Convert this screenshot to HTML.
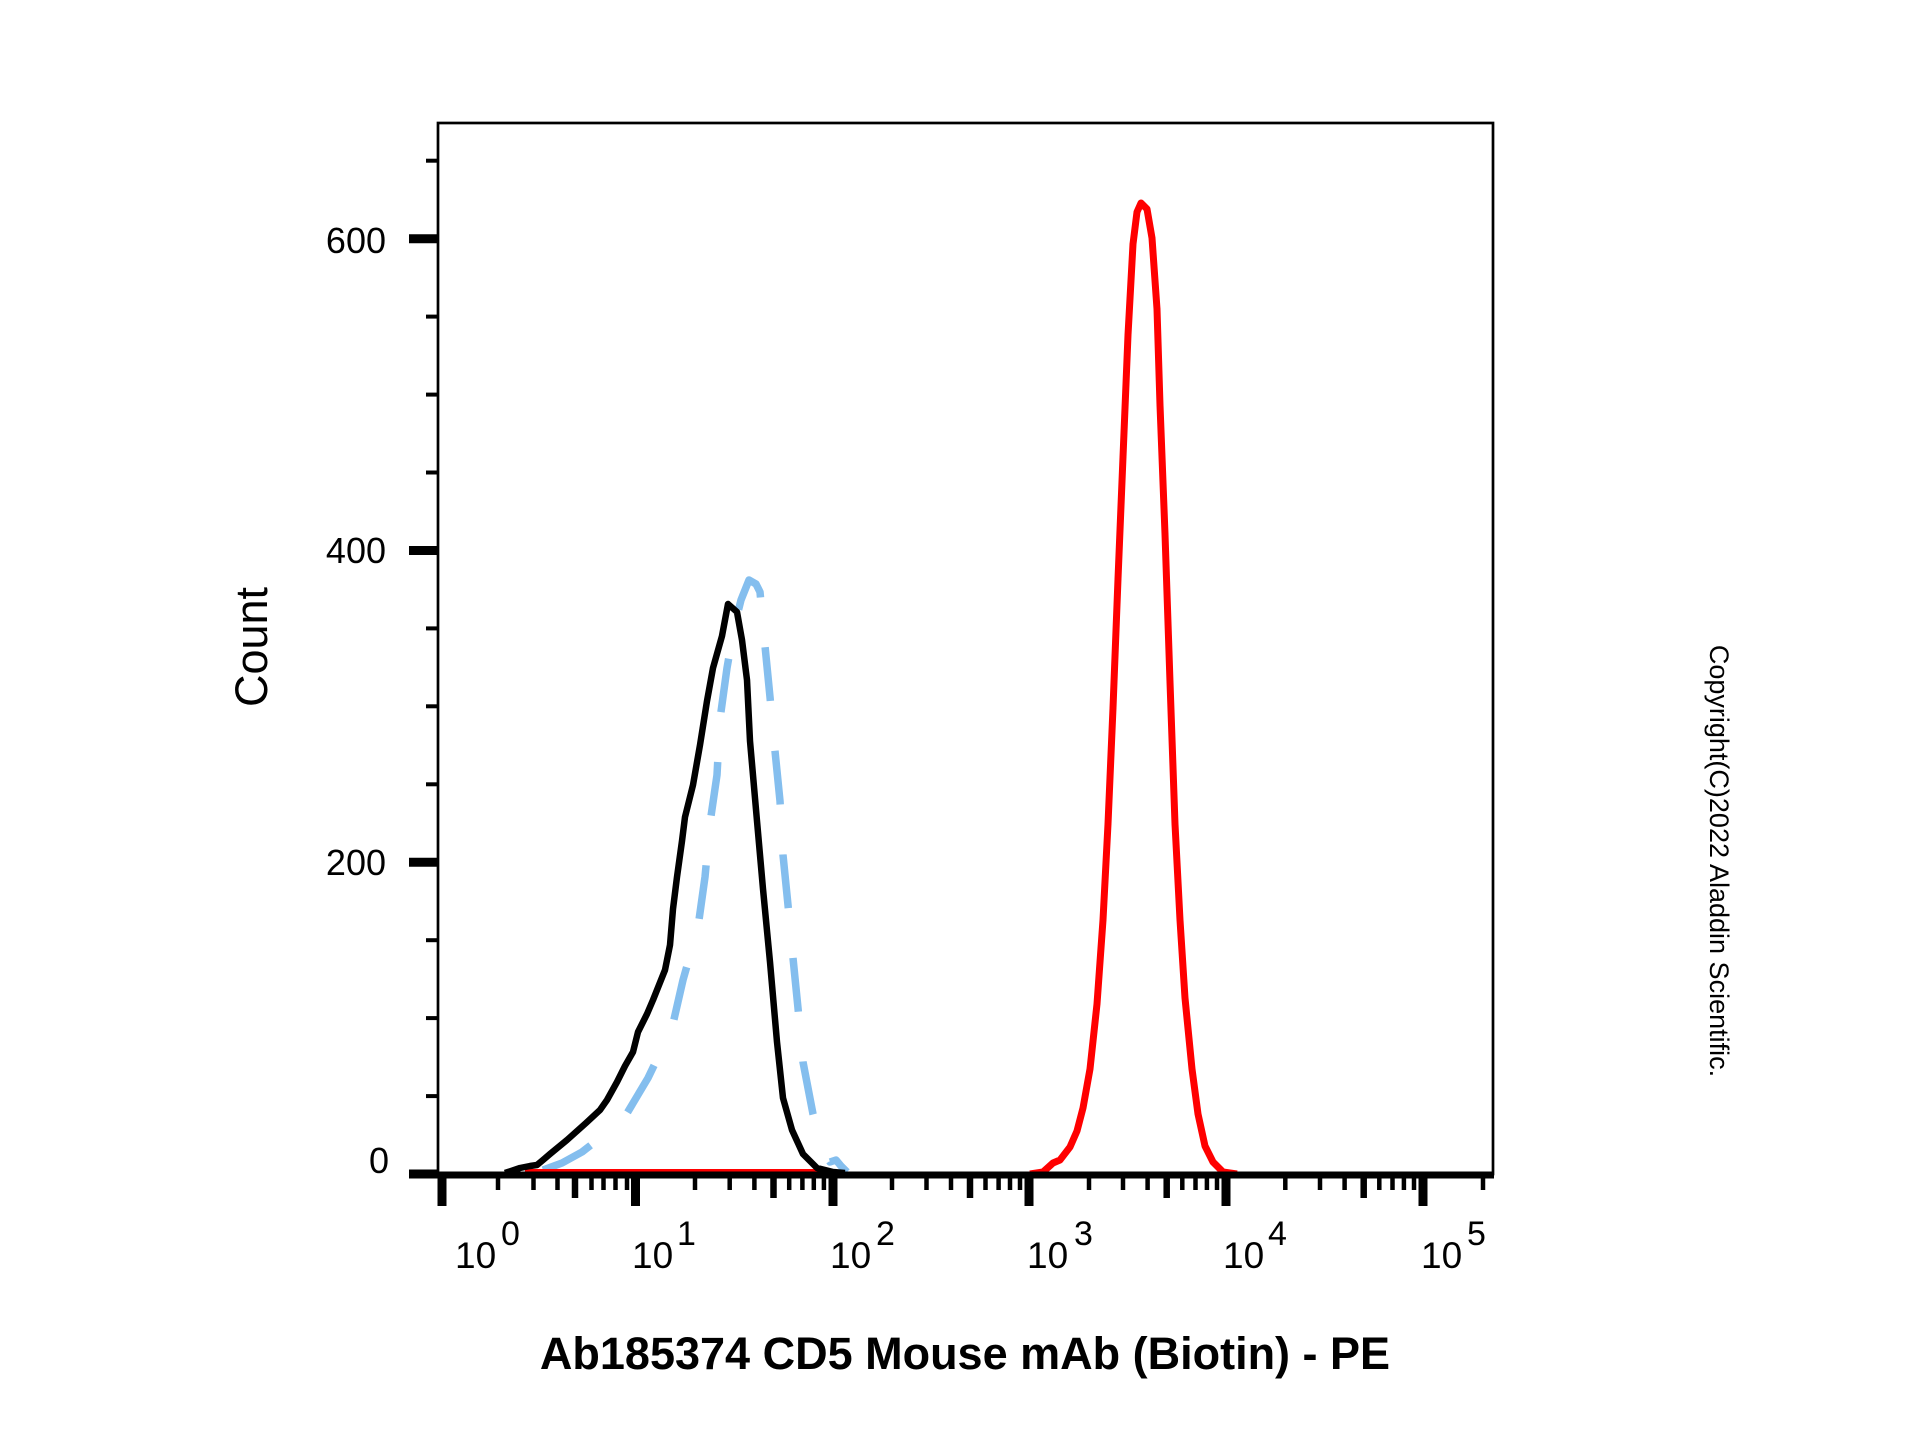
<!DOCTYPE html>
<html>
<head>
<meta charset="utf-8">
<style>
  html, body { margin: 0; padding: 0; background: #ffffff; }
  svg { display: block; }
  text { font-family: "Liberation Sans", Arial, sans-serif; fill: #000; }
</style>
</head>
<body>
<svg width="1920" height="1440" viewBox="0 0 1920 1440" xmlns="http://www.w3.org/2000/svg">
  <rect x="0" y="0" width="1920" height="1440" fill="#ffffff"/>

  <!-- curves -->
  <polyline fill="none" stroke="#84BEEE" stroke-width="7.5" stroke-dasharray="54 50" stroke-linejoin="round"
    points="543,1170 562,1163 582,1152 600,1138 623,1120 648,1078 672,1028 683,980 698,927 705,877 710,823 717,775 720,719 727,668 734,628 741,600 749,580 756,584 760,592 765,646 770,697 775,751 780,801 783,855 788,905 793,958 798,1008 803,1062 813,1114 823,1152 830,1162 836,1160 841,1166 847,1172"/>

  <polyline fill="none" stroke="#FF0000" stroke-width="6" stroke-linejoin="round"
    points="525,1172 833,1172"/>
  <polyline fill="none" stroke="#FF0000" stroke-width="7" stroke-linejoin="round"
    points="1030,1174 1043,1172 1053,1163 1060,1160 1070,1147 1077,1131 1083,1108 1090,1069 1097,1004 1103,920 1108,824 1113,708 1118,579 1123,457 1128,335 1133,244 1137,212 1141,203 1147,209 1152,238 1157,309 1160,405 1165,534 1170,682 1175,824 1180,920 1185,998 1192,1069 1198,1114 1205,1146 1213,1162 1223,1172 1237,1174"/>

  <polyline fill="none" stroke="#000000" stroke-width="6.5" stroke-linejoin="round"
    points="505,1173 520,1168 530,1166 537,1165 543,1160 550,1154 567,1140 586,1123 600,1110 607,1100 617,1082 625,1066 633,1052 638,1032 647,1014 653,1000 665,970 670,945 673,909 677,877 682,841 685,817 693,785 700,745 707,701 713,668 722,636 728,604 737,612 742,640 747,680 750,741 757,821 763,889 770,962 777,1042 783,1098 792,1130 803,1154 817,1168 833,1172 845,1173"/>

  <!-- frame -->
  <rect x="438" y="123" width="1055" height="1051" fill="none" stroke="#000" stroke-width="2.7"/>
  <line x1="438" y1="1175" x2="1494" y2="1175" stroke="#000" stroke-width="7"/>

  <!-- y ticks -->
  <g stroke="#000">
    <line x1="409" y1="1174" x2="438" y2="1174" stroke-width="9"/>
    <line x1="409" y1="862.2" x2="438" y2="862.2" stroke-width="9"/>
    <line x1="409" y1="550.5" x2="438" y2="550.5" stroke-width="9"/>
    <line x1="409" y1="238.7" x2="438" y2="238.7" stroke-width="9"/>
    <g stroke-width="4">
      <line x1="426" y1="1096.1" x2="438" y2="1096.1"/>
      <line x1="426" y1="1018.1" x2="438" y2="1018.1"/>
      <line x1="426" y1="940.2" x2="438" y2="940.2"/>
      <line x1="426" y1="784.3" x2="438" y2="784.3"/>
      <line x1="426" y1="706.3" x2="438" y2="706.3"/>
      <line x1="426" y1="628.4" x2="438" y2="628.4"/>
      <line x1="426" y1="472.5" x2="438" y2="472.5"/>
      <line x1="426" y1="394.6" x2="438" y2="394.6"/>
      <line x1="426" y1="316.6" x2="438" y2="316.6"/>
      <line x1="426" y1="160.7" x2="438" y2="160.7"/>
    </g>
  </g>

  <!-- x ticks -->
  <g stroke="#000">
    <g stroke-width="9">
      <line x1="442" y1="1172" x2="442" y2="1206"/>
      <line x1="635.5" y1="1172" x2="635.5" y2="1206"/>
      <line x1="833" y1="1172" x2="833" y2="1206"/>
      <line x1="1029" y1="1172" x2="1029" y2="1206"/>
      <line x1="1226" y1="1172" x2="1226" y2="1206"/>
      <line x1="1423" y1="1172" x2="1423" y2="1206"/>
    </g>
    <g stroke-width="6.5">
      <line x1="575" y1="1172" x2="575" y2="1198"/>
      <line x1="773.5" y1="1172" x2="773.5" y2="1198"/>
      <line x1="970" y1="1172" x2="970" y2="1198"/>
      <line x1="1166.7" y1="1172" x2="1166.7" y2="1198"/>
      <line x1="1363.7" y1="1172" x2="1363.7" y2="1198"/>
    </g>
    <g stroke-width="4.5">
      <line x1="498" y1="1172" x2="498" y2="1190"/>
      <line x1="533.5" y1="1172" x2="533.5" y2="1190"/>
      <line x1="557.5" y1="1172" x2="557.5" y2="1190"/>
      <line x1="591.5" y1="1172" x2="591.5" y2="1190"/>
      <line x1="603.5" y1="1172" x2="603.5" y2="1190"/>
      <line x1="615.5" y1="1172" x2="615.5" y2="1190"/>
      <line x1="627" y1="1172" x2="627" y2="1190"/>

      <line x1="695" y1="1172" x2="695" y2="1190"/>
      <line x1="729.7" y1="1172" x2="729.7" y2="1190"/>
      <line x1="754.4" y1="1172" x2="754.4" y2="1190"/>
      <line x1="789.2" y1="1172" x2="789.2" y2="1190"/>
      <line x1="802.4" y1="1172" x2="802.4" y2="1190"/>
      <line x1="813.8" y1="1172" x2="813.8" y2="1190"/>
      <line x1="823.9" y1="1172" x2="823.9" y2="1190"/>

      <line x1="892" y1="1172" x2="892" y2="1190"/>
      <line x1="926.5" y1="1172" x2="926.5" y2="1190"/>
      <line x1="951" y1="1172" x2="951" y2="1190"/>
      <line x1="985.5" y1="1172" x2="985.5" y2="1190"/>
      <line x1="998.6" y1="1172" x2="998.6" y2="1190"/>
      <line x1="1010" y1="1172" x2="1010" y2="1190"/>
      <line x1="1020" y1="1172" x2="1020" y2="1190"/>

      <line x1="1089" y1="1172" x2="1089" y2="1190"/>
      <line x1="1123" y1="1172" x2="1123" y2="1190"/>
      <line x1="1147.6" y1="1172" x2="1147.6" y2="1190"/>
      <line x1="1182.3" y1="1172" x2="1182.3" y2="1190"/>
      <line x1="1195.5" y1="1172" x2="1195.5" y2="1190"/>
      <line x1="1206.9" y1="1172" x2="1206.9" y2="1190"/>
      <line x1="1217" y1="1172" x2="1217" y2="1190"/>

      <line x1="1285.3" y1="1172" x2="1285.3" y2="1190"/>
      <line x1="1320" y1="1172" x2="1320" y2="1190"/>
      <line x1="1344.6" y1="1172" x2="1344.6" y2="1190"/>
      <line x1="1379.3" y1="1172" x2="1379.3" y2="1190"/>
      <line x1="1392.5" y1="1172" x2="1392.5" y2="1190"/>
      <line x1="1403.9" y1="1172" x2="1403.9" y2="1190"/>
      <line x1="1414" y1="1172" x2="1414" y2="1190"/>

      <line x1="1483" y1="1172" x2="1483" y2="1190"/>
    </g>
  </g>

  <!-- y tick labels -->
  <g font-size="36" text-anchor="end">
    <text x="386" y="253">600</text>
    <text x="386" y="563">400</text>
    <text x="386" y="875">200</text>
    <text x="389" y="1173">0</text>
  </g>

  <!-- x tick labels -->
  <g font-size="37">
    <text x="455" y="1268">10</text>
    <text x="632" y="1268">10</text>
    <text x="830" y="1268">10</text>
    <text x="1027" y="1268">10</text>
    <text x="1223" y="1268">10</text>
    <text x="1421" y="1268">10</text>
  </g>
  <g font-size="34">
    <text x="501" y="1245">0</text>
    <text x="677" y="1245">1</text>
    <text x="876" y="1245">2</text>
    <text x="1074" y="1245">3</text>
    <text x="1268" y="1245">4</text>
    <text x="1467" y="1245">5</text>
  </g>

  <!-- axis titles -->
  <text x="267" y="647" font-size="45" text-anchor="middle" transform="rotate(-90 267 647)">Count</text>
  <text x="965" y="1369" font-size="45" font-weight="bold" text-anchor="middle">Ab185374 CD5 Mouse mAb (Biotin) - PE</text>

  <!-- copyright -->
  <text x="1710" y="861" font-size="27" text-anchor="middle" transform="rotate(90 1710 861)">Copyright(C)2022 Aladdin Scientific.</text>
</svg>
</body>
</html>
